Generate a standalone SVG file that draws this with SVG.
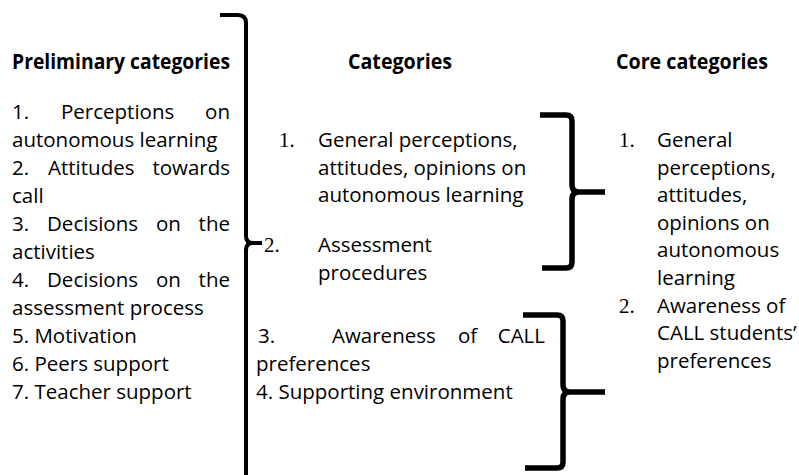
<svg xmlns="http://www.w3.org/2000/svg" width="799" height="475" viewBox="0 0 799 475">
<style>
  text { font-family: "Open Sans", "Noto Sans", "Liberation Sans", sans-serif; font-size: 20.5px; fill: #000; }
  .h { font-weight: bold; }
  .num { font-family: "Liberation Serif", "Times New Roman", serif; font-size: 21px; }
  .br { fill: none; stroke: #000; stroke-linecap: butt; stroke-linejoin: round; }
  .big { stroke-width: 4; }
  .mid { stroke-width: 5.5; }
</style>
<rect width="799" height="475" fill="#fff"/>

<g id="preliminary-categories">
  <text class="h" x="12" y="69" textLength="218" lengthAdjust="spacingAndGlyphs">Preliminary categories</text>
  <text x="12" y="119">1.</text><text x="61" y="119">Perceptions</text><text x="230" y="119" text-anchor="end">on</text>
  <text x="12" y="147">autonomous learning</text>
  <text x="12" y="175">2.</text><text x="48" y="175">Attitudes</text><text x="230" y="175" text-anchor="end">towards</text>
  <text x="12" y="203">call</text>
  <text x="12" y="231">3.</text><text x="47" y="231">Decisions</text><text x="156" y="231">on</text><text x="230" y="231" text-anchor="end">the</text>
  <text x="12" y="259">activities</text>
  <text x="12" y="287">4.</text><text x="47" y="287">Decisions</text><text x="156" y="287">on</text><text x="230" y="287" text-anchor="end">the</text>
  <text x="12" y="315">assessment process</text>
  <text x="12" y="343">5. Motivation</text>
  <text x="12" y="371">6. Peers support</text>
  <text x="12" y="399">7. Teacher support</text>
</g>

<g id="categories-header">
  <text class="h" x="348" y="69" textLength="104" lengthAdjust="spacingAndGlyphs">Categories</text>
</g>

<g id="category-1">
  <text class="num" x="279" y="147">1.</text>
  <text x="318" y="147">General perceptions,</text>
  <text x="318" y="175">attitudes, opinions on</text>
  <text x="318" y="202">autonomous learning</text>
</g>

<g id="category-2">
  <text class="num" x="264" y="252">2.</text>
  <text x="318" y="252">Assessment</text>
  <text x="318" y="280">procedures</text>
</g>

<g id="category-3-4">
  <text x="258" y="343">3.</text><text x="332" y="343">Awareness</text><text x="458" y="343">of</text><text x="545" y="343" text-anchor="end">CALL</text>
  <text x="256" y="371">preferences</text>
  <text x="256" y="399">4. Supporting environment</text>
</g>

<g id="core-categories">
  <text class="h" x="616" y="69" textLength="152" lengthAdjust="spacingAndGlyphs">Core categories</text>
  <text class="num" x="619" y="147">1.</text>
  <text x="657" y="147">General</text>
  <text x="657" y="175">perceptions,</text>
  <text x="657" y="202">attitudes,</text>
  <text x="657" y="230">opinions on</text>
  <text x="657" y="257">autonomous</text>
  <text x="657" y="285">learning</text>
  <text class="num" x="619" y="313">2.</text>
  <text x="657" y="313">Awareness of</text>
  <text x="657" y="340">CALL students’</text>
  <text x="657" y="368">preferences</text>
</g>

<g id="connectors">
  <path class="br big" d="M220,15 L238,15 Q246,15 246,23 L246,236 Q246,243 253,243 L262,243 M253,243 Q246,243 246,250 L246,480"/>
  <path class="br mid" d="M540,115 L566,115 Q572,115 572,121 L572,185 Q572,192 579,192 L605,192 M579,192 Q572,192 572,199 L572,262 Q572,268 566,268 L542,268"/>
  <path class="br mid" d="M523,315 L557,315 Q563,315 563,321 L563,385 Q563,392 570,392 L605,392 M570,392 Q563,392 563,399 L563,462 Q563,468 557,468 L525,468"/>
</g>
</svg>
